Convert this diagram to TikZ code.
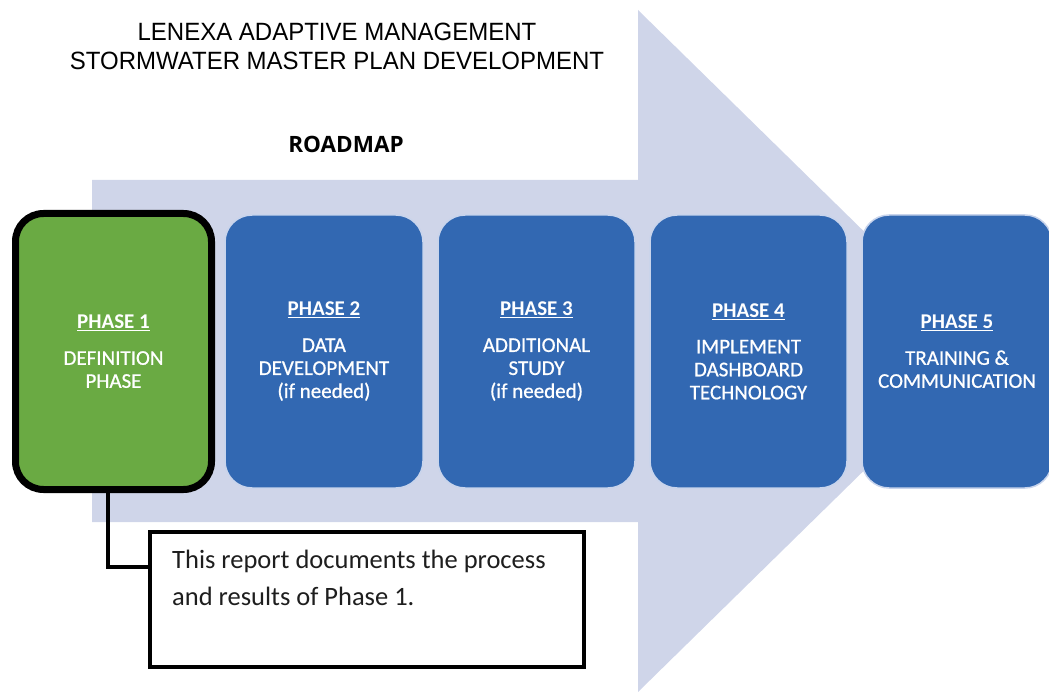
\documentclass[tikz,border=0pt]{standalone}
\usepackage{fontspec}
\setmainfont{Carlito}
\newfontfamily\titlefont[FakeStretch=0.96]{Liberation Sans}
\newfontfamily\headfont{Open Sans}
\newfontfamily\phasefont[UprightFeatures={FakeBold=0.7}]{Carlito}

\definecolor{arrowfill}{RGB}{207,213,233}
\definecolor{phaseblue}{RGB}{50,104,178}
\definecolor{phaseedge}{RGB}{200,212,236}
\definecolor{phasegreen}{RGB}{106,170,67}
\definecolor{notetext}{RGB}{30,30,30}

\newcommand{\phasehead}[1]{\textbf{\underline{#1}}\\[13pt]}

\tikzset{
  phasebox/.style={rectangle, rounded corners=27pt, inner sep=0pt,
    minimum height=273pt, fill=phaseblue, draw=phaseedge, line width=1.5pt,
    text=white, align=center,
    font=\phasefont\fontsize{21}{23}\selectfont},
  currentbox/.style={phasebox, fill=phasegreen, draw=black, line width=7pt,
    minimum width=196pt, minimum height=276pt, rounded corners=28pt},
  notebox/.style={rectangle, draw=black, line width=3.5pt, fill=white,
    inner sep=0pt, minimum width=434pt, minimum height=135pt},
  link/.style={draw=black, line width=3.5pt},
}

\begin{document}
\begin{tikzpicture}[x=1pt,y=-1pt]
  \useasboundingbox (0,0) rectangle (1049,692);

  % large background arrow
  \fill[arrowfill] (92,180) -- (638,180) -- (638,10) -- (986,351)
    -- (638,692) -- (638,522) -- (92,522) -- cycle;

  % headings
  \node[anchor=north, inner sep=0pt, align=center, text=black,
        font=\titlefont\fontsize{25}{29}\selectfont] (title) at (337,23)
    {LENEXA ADAPTIVE MANAGEMENT\\STORMWATER MASTER PLAN DEVELOPMENT};
  \node[anchor=base, inner sep=0pt, text=black,
        font=\headfont\bfseries\fontsize{22.5}{27}\selectfont] (roadmap) at (346,153)
    {ROADMAP};

  % phases
  \node[currentbox] (p1) at (113.5,351.5)
    {\phasehead{PHASE 1}DEFINITION\\PHASE};
  \node[phasebox, minimum width=198pt] (p2) at (324,351.5)
    {\phasehead{PHASE 2}DATA\\DEVELOPMENT\\(if needed)};
  \node[phasebox, minimum width=197pt] (p3) at (536.5,351.5)
    {\phasehead{PHASE 3}ADDITIONAL\\STUDY\\(if needed)};
  \node[phasebox, minimum width=197pt] (p4) at (748.5,351.5)
    {\phasehead{PHASE 4}IMPLEMENT\\DASHBOARD\\TECHNOLOGY};
  \node[phasebox, minimum width=190pt] (p5) at (957,351.5)
    {\phasehead{PHASE 5}TRAINING \&\\COMMUNICATION};

  % callout
  \node[notebox, anchor=north west] (note) at (148,530) {};
  \node[anchor=north west, inner sep=0pt, align=left, text=notetext,
        font=\fontsize{26.5}{37}\selectfont] (notetxt) at (172,550)
    {This report documents the process\\and results of Phase 1.};
  \draw[link] ([xshift=-5.5pt]p1.south) |- ([yshift=32.5pt]note.west);
\end{tikzpicture}
\end{document}
